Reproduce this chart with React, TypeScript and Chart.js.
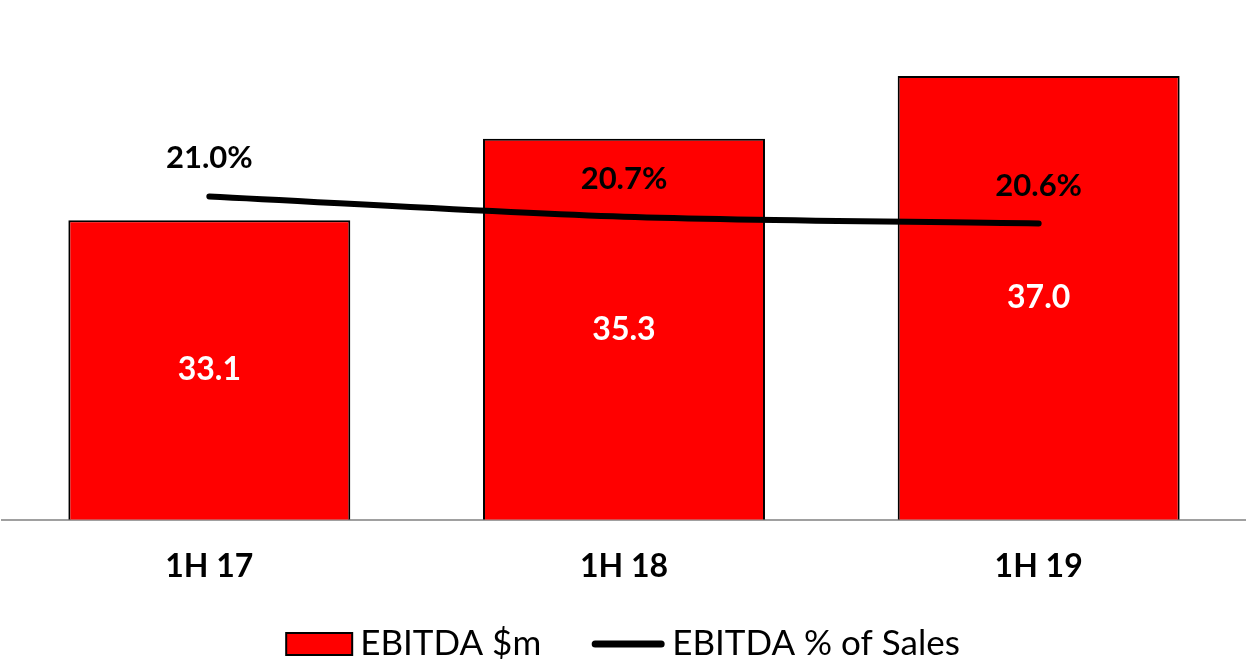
import React, { useEffect, useRef } from "react";
import { Chart, registerables } from "chart.js";

Chart.register(...registerables);

const categories = ["1H 17", "1H 18", "1H 19"];
const ebitdaValues = [33.1, 35.3, 37.0];
const ebitdaPct = [21.0, 20.7, 20.6];
const barLabel = "EBITDA $m";
const lineLabel = "EBITDA % of Sales";

const FONT = "Lato, 'DejaVu Sans', sans-serif";

const valueLabelsPlugin = {
  id: "valueLabels",
  afterDatasetsDraw(chart: any) {
    const ctx = chart.ctx;
    const yScale = chart.scales.y;
    const xScale = chart.scales.x;
    const basePx = yScale.getPixelForValue(yScale.min);
    ctx.save();
    ctx.textAlign = "center";
    ctx.textBaseline = "middle";
    ctx.font = `bold 32px ${FONT}`;
    ctx.fillStyle = "#ffffff";
    const barData = chart.data.datasets[0].data as number[];
    barData.forEach((v: number, i: number) => {
      const x = xScale.getPixelForValue(i);
      const top = yScale.getPixelForValue(v);
      ctx.fillText(Number(v).toFixed(1), x, (top + basePx) / 2);
    });
    const lineMeta = chart.getDatasetMeta(1);
    ctx.font = `bold 31px ${FONT}`;
    ctx.fillStyle = "#000000";
    lineMeta.data.forEach((el: any, i: number) => {
      const v = chart.data.datasets[1].data[i] as number;
      ctx.fillText(Number(v).toFixed(1) + "%", el.x, el.y - 38);
    });
    ctx.restore();
  },
};

const bottomLegendPlugin = {
  id: "bottomLegend",
  afterDraw(chart: any) {
    const ctx = chart.ctx;
    const ds0 = chart.data.datasets[0];
    const ds1 = chart.data.datasets[1];
    ctx.save();
    ctx.font = `35px ${FONT}`;
    const boxW = 66;
    const boxH = 22;
    const lineW = 72;
    const gap = 8;
    const spacing = 51;
    const w0 = ctx.measureText(ds0.label).width;
    const w1 = ctx.measureText(ds1.label).width;
    const total = boxW + gap + w0 + spacing + lineW + gap + w1;
    let x = (chart.width - total) / 2;
    const cy = chart.height - 18;
    ctx.textBaseline = "middle";
    ctx.textAlign = "left";
    ctx.fillStyle = ds0.backgroundColor;
    ctx.strokeStyle = ds0.borderColor;
    ctx.lineWidth = 2;
    ctx.fillRect(x, cy - boxH / 2, boxW, boxH);
    ctx.strokeRect(x, cy - boxH / 2, boxW, boxH);
    x += boxW + gap;
    ctx.fillStyle = "#000";
    ctx.fillText(ds0.label, x, cy);
    x += w0 + spacing;
    ctx.strokeStyle = ds1.borderColor;
    ctx.lineWidth = 7;
    ctx.lineCap = "round";
    ctx.beginPath();
    ctx.moveTo(x + 3, cy);
    ctx.lineTo(x + lineW - 3, cy);
    ctx.stroke();
    x += lineW + gap;
    ctx.fillText(ds1.label, x, cy);
    ctx.restore();
  },
};

export default function App() {
  const canvasRef = useRef<HTMLCanvasElement | null>(null);

  useEffect(() => {
    if (!canvasRef.current) return;
    const chart = new Chart(canvasRef.current, {
      type: "bar",
      data: {
        labels: categories,
        datasets: [
          {
            type: "bar",
            label: barLabel,
            data: ebitdaValues,
            backgroundColor: "#ff0000",
            borderColor: "#000000",
            borderWidth: 2,
            borderSkipped: "bottom",
            categoryPercentage: 1,
            barPercentage: 0.68,
            yAxisID: "y",
            order: 2,
          },
          {
            type: "line",
            label: lineLabel,
            data: ebitdaPct,
            borderColor: "#000000",
            backgroundColor: "#000000",
            borderWidth: 6,
            borderCapStyle: "round",
            pointRadius: 0,
            tension: 0.3,
            fill: false,
            yAxisID: "y1",
            order: 1,
          },
        ] as any,
      },
      options: {
        animation: false,
        responsive: true,
        maintainAspectRatio: false,
        layout: { padding: { top: 39, bottom: 48, left: 2, right: 0 } },
        plugins: {
          legend: { display: false },
          tooltip: { enabled: false },
        },
        scales: {
          x: {
            z: 1,
            grid: { display: false, drawTicks: false },
            border: { display: true, color: "#a0a0a0", width: 2 },
            ticks: {
              padding: 28,
              color: "#000000",
              font: { family: FONT, size: 32, weight: "bold" },
            },
          },
          y: {
            display: false,
            min: 25,
            max: 38,
          },
          y1: {
            display: false,
            position: "right",
            min: 16.22,
            max: 23.33,
          },
        },
      } as any,
      plugins: [valueLabelsPlugin, bottomLegendPlugin],
    });
    return () => chart.destroy();
  }, []);

  return (
    <div style={{ position: "fixed", left: 0, top: 0, width: "1246px", height: "662px", background: "#fff" }}>
      <canvas ref={canvasRef} />
    </div>
  );
}
